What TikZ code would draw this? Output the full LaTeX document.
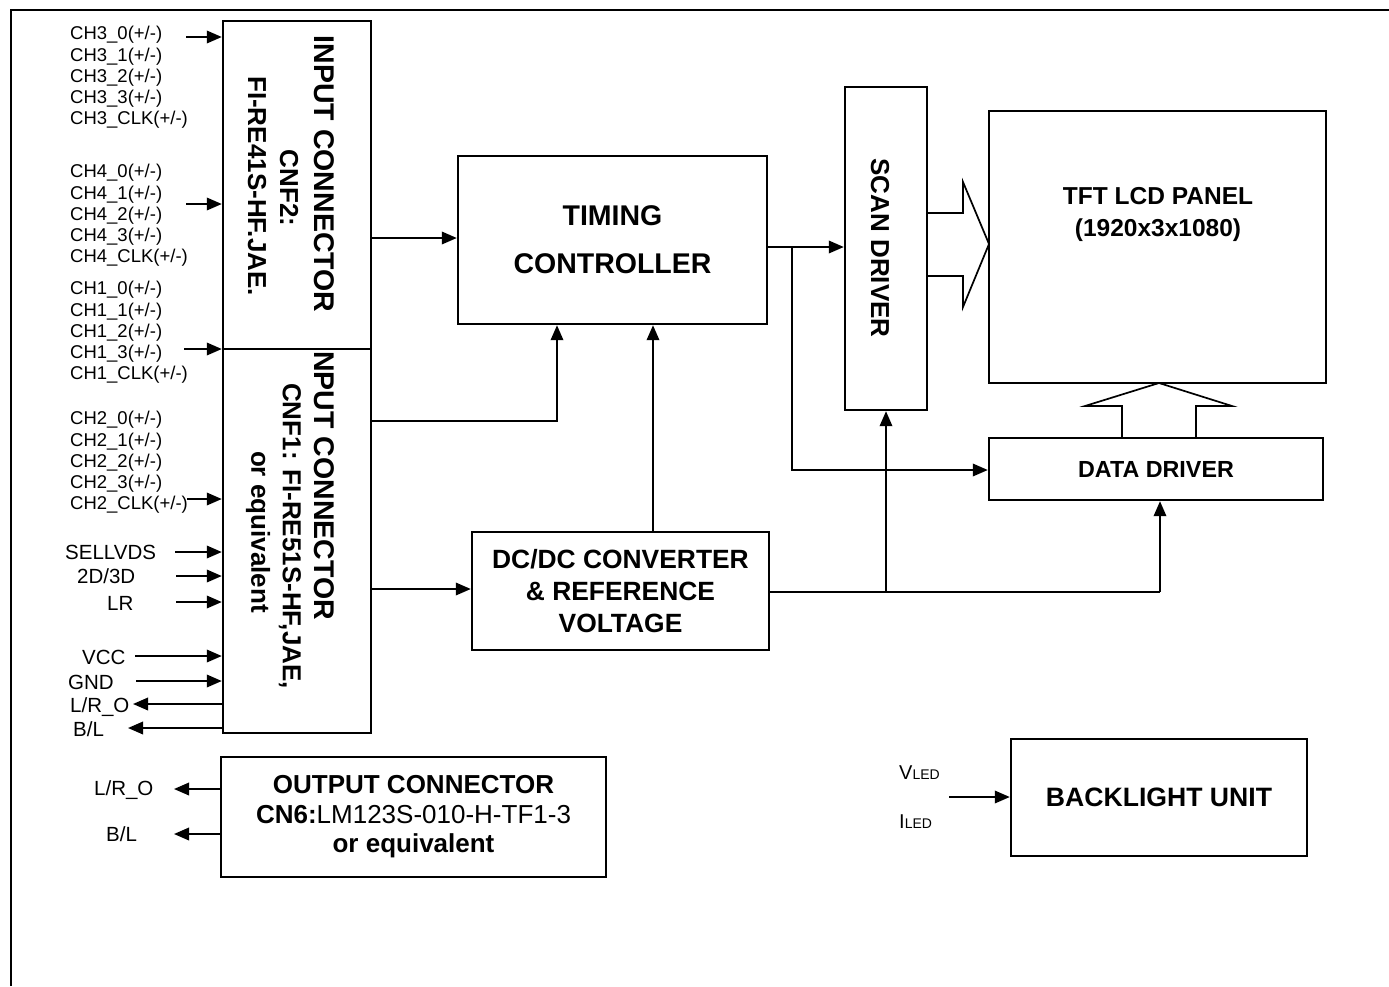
\documentclass[tikz,border=0pt]{standalone}
\usepackage{fontspec}
\setmainfont{Liberation Sans}
\usetikzlibrary{arrows.meta}
\newcommand\fsz[2]{\fontsize{#1}{#2}\selectfont}
\begin{document}
\begin{tikzpicture}[x=1pt,y=-1pt,
  box/.style={draw,line width=2.4pt,fill=white,inner sep=0pt},
  wire/.style={line width=1.9pt},
  arr/.style={wire,-{Triangle[length=15pt,width=12.5pt]}},
  hollow/.style={line width=1.7pt,line join=miter},
  lbl/.style={inner sep=0pt,anchor=west,align=left,font=\fsz{18.5}{21.25}},
  sig/.style={inner sep=0pt,anchor=west,font=\fsz{20.5}{24}},
  vt/.style={rotate=-90,inner sep=0pt,font=\bfseries\fsz{26}{32}},
]
\useasboundingbox (0,0) rectangle (1389,986);
\draw[line width=2.4pt] (11,986) -- (11,10) -- (1389,10);

% boxes
\node[box,minimum width=148pt,minimum height=384pt] (cnf1) at (297,541) {};
\node[box,minimum width=148pt,minimum height=328pt] (cnf2) at (297,185) {};
\node[box,minimum width=309pt,minimum height=168pt,align=center,font=\bfseries\fsz{28.5}{48}] (tc) at (612.5,240) {TIMING\\CONTROLLER};
\node[box,minimum width=82pt,minimum height=323pt] (scan) at (886,248.5) {};
\node[box,minimum width=337pt,minimum height=272pt] (tft) at (1157.5,247) {};
\node[box,minimum width=334pt,minimum height=62pt,font=\bfseries\fsz{23.3}{28}] (dd) at (1156,469) {DATA DRIVER};
\node[box,minimum width=297pt,minimum height=118pt,align=center,font=\bfseries\fsz{26.4}{32}] (dc) at (620.5,591) {DC/DC CONVERTER\\\& REFERENCE\\VOLTAGE};
\node[box,minimum width=385pt,minimum height=120pt,align=center,font=\fsz{26}{29.5}] (out) at (413.5,817) {\textbf{OUTPUT CONNECTOR}\\\textbf{CN6:}LM123S-010-H-TF1-3\\\textbf{or equivalent}};
\node[box,minimum width=296pt,minimum height=117pt,font=\bfseries\fsz{26.6}{30}] (bl) at (1159,797.5) {BACKLIGHT UNIT};

% texts in boxes
\node[vt,font=\bfseries\fsz{28.5}{32}] (c2a) at (324,174) {INPUT CONNECTOR};
\node[vt] (c2b) at (289,188) {CNF2:};
\node[vt] (c2c) at (257,186) {FI-RE41S-HF.JAE.};
\node[vt,font=\bfseries\fsz{28.5}{32},anchor=west] (c1a) at (324,351) {NPUT CONNECTOR};
\node[vt] (c1b) at (290,536) {CNF1: FI-RE51S-HF,JAE,};
\node[vt] (c1c) at (258,532) {or equivalent};
\node[vt] (scant) at (880,248) {SCAN DRIVER};
\node[inner sep=0pt,align=center,font=\bfseries\fsz{24.5}{32}] (tftt) at (1158,214) {TFT LCD PANEL\\(1920x3x1080)};

% left labels
\node[lbl] (g3) at (70,77.5) {CH3\_0(+/-)\\CH3\_1(+/-)\\CH3\_2(+/-)\\CH3\_3(+/-)\\CH3\_CLK(+/-)};
\node[lbl] (g4) at (70,215.5) {CH4\_0(+/-)\\CH4\_1(+/-)\\CH4\_2(+/-)\\CH4\_3(+/-)\\CH4\_CLK(+/-)};
\node[lbl] (g1) at (70,332.5) {CH1\_0(+/-)\\CH1\_1(+/-)\\CH1\_2(+/-)\\CH1\_3(+/-)\\CH1\_CLK(+/-)};
\node[lbl] (g2) at (70,462.5) {CH2\_0(+/-)\\CH2\_1(+/-)\\CH2\_2(+/-)\\CH2\_3(+/-)\\CH2\_CLK(+/-)};
\node[sig] (sell) at (65,552) {SELLVDS};
\node[sig] (d23) at (77,576) {2D/3D};
\node[sig] (lr) at (107,603) {LR};
\node[sig] (vcc) at (82,657) {VCC};
\node[sig] (gnd) at (68,682) {GND};
\node[sig] (lro) at (70,707) {L/R\_O};
\node[sig] (blo) at (73,729) {B/L};
\node[sig] (lro2) at (94,790) {L/R\_O};
\node[sig] (blo2) at (106,834) {B/L};
\node[inner sep=0pt,anchor=west] (vled) at (899,773) {{\fsz{20}{24}V}{\fsz{14}{16}LED}};
\node[inner sep=0pt,anchor=west] (iled) at (899,822) {{\fsz{20}{24}I}{\fsz{14}{16}LED}};

% input arrows
\coordinate (a3) at (186,37);
\coordinate (a4) at (186,204);
\coordinate (a1) at (184,349);
\coordinate (a2) at (187,499);
\coordinate (aS) at (175,552);
\coordinate (aD) at (176,576);
\coordinate (aL) at (176,602);
\coordinate (aV) at (135,656);
\coordinate (aG) at (136,681);
\coordinate (aO) at (133,704);
\coordinate (aB) at (128,728);
\draw[arr] (a3) -- (a3 -| cnf2.west);
\draw[arr] (a4) -- (a4 -| cnf2.west);
\draw[arr] (a1) -- (a1 -| cnf1.west);
\draw[arr] (a2) -- (a2 -| cnf1.west);
\draw[arr] (aS) -- (aS -| cnf1.west);
\draw[arr] (aD) -- (aD -| cnf1.west);
\draw[arr] (aL) -- (aL -| cnf1.west);
\draw[arr] (aV) -- (aV -| cnf1.west);
\draw[arr] (aG) -- (aG -| cnf1.west);
\draw[arr] (aO -| cnf1.west) -- (aO);
\draw[arr] (aB -| cnf1.west) -- (aB);

\coordinate (oO) at (174,789);
\coordinate (oB) at (174,834);
\draw[arr] (oO -| out.west) -- (oO);
\draw[arr] (oB -| out.west) -- (oB);

% internal connections
\coordinate (t2) at (371,238);
\draw[arr] (t2 -| cnf2.east) -- (t2 -| tc.west);
\coordinate (j1) at (557,421);
\draw[arr] (j1 -| cnf1.east) -- (j1) -- (j1 |- tc.south);
\coordinate (jd) at (400,589);
\draw[arr] (jd -| cnf1.east) -- (jd -| dc.west);
\coordinate (j2) at (653,500);
\draw[arr] (j2 |- dc.north) -- (j2 |- tc.south);
\coordinate (j3) at (792,247);
\draw[arr] (j3 -| tc.east) -- (j3 -| scan.west);
\coordinate (j3b) at (792,470);
\draw[arr] (j3) -- (j3b) -- (j3b -| dd.west);
\coordinate (j4) at (886,592);
\coordinate (j5) at (1160,592);
\draw[wire] (j4 -| dc.east) -- (j5);
\draw[arr] (j4) -- (j4 |- scan.south);
\draw[arr] (j5) -- (j5 |- dd.south);
\coordinate (bl0) at (949,797);
\draw[arr] (bl0) -- (bl0 -| bl.west);

% hollow arrows
\draw[hollow] (927,213) -- (963,213) -- (963,182) -- (989,244) -- (963,307) -- (963,276) -- (927,276);
\draw[hollow] (1122,438) -- (1122,406) -- (1085,406) -- (1159,383) -- (1232,406) -- (1196,406) -- (1196,438);
\end{tikzpicture}
\end{document}
